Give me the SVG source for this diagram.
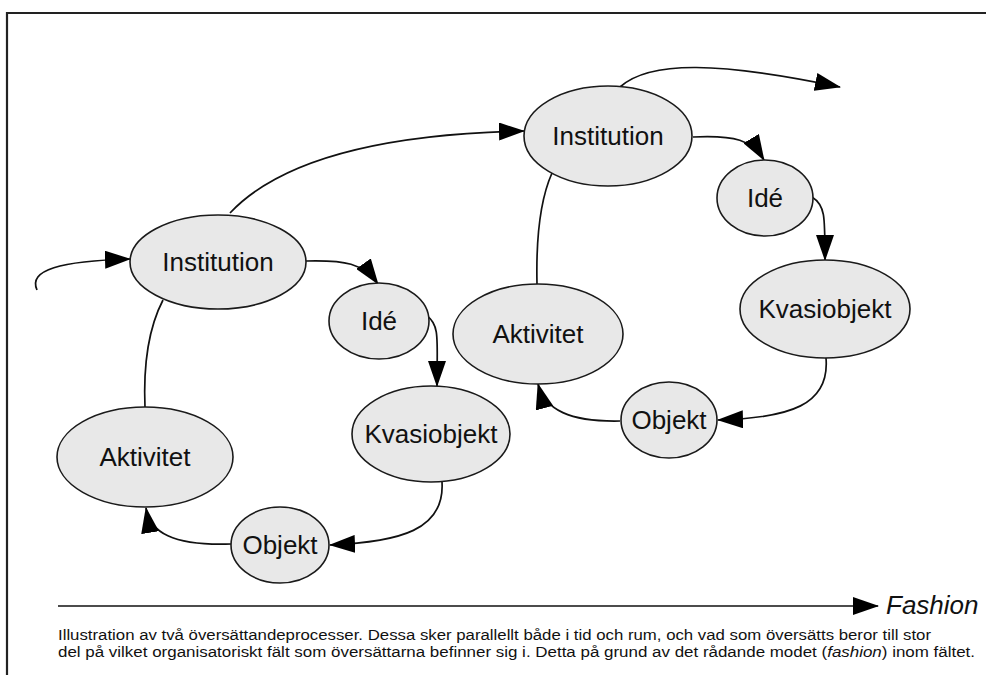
<svg xmlns="http://www.w3.org/2000/svg" width="986" height="675" viewBox="0 0 986 675">
<defs>
<style>
.n ellipse{fill:#e8e8e8;stroke:#1a1a1a;stroke-width:1.6}
.n text{font-family:"Liberation Sans",Arial,sans-serif;font-size:26px;fill:#111;text-anchor:middle}
.c path{fill:none;stroke:#111;stroke-width:1.7}
.a{marker-end:url(#ah)}
.cap{font-family:"Liberation Sans",Arial,sans-serif;font-size:14px;fill:#111}
</style>
<marker id="ah" markerUnits="userSpaceOnUse" markerWidth="26" markerHeight="18" viewBox="0 0 26 18" refX="25" refY="9" orient="auto">
<path d="M0,0 L26,9 L0,18 z" fill="#000"/>
</marker>
</defs>
<rect width="986" height="675" fill="#fff"/>
<path d="M7 675 L7 13 L986 13" fill="none" stroke="#222" stroke-width="2.2"/>

<g class="c">
<path class="a" d="M37 290 C28 270 60 261 130 259"/>
<path class="a" d="M306 261 C345 260 363 263 378 284"/>
<path class="a" d="M427 316 C440 325 437 340 437 386"/>
<path class="a" d="M442 482 C445 530 400 542 330 545"/>
<path class="a" d="M231 544 C172 546 150 532 146 508"/>
<path d="M145 408 C143 360 150 325 163 300"/>
<path class="a" d="M230 213 C280 160 380 134 524 131"/>
<path class="a" d="M620 87 C650 60 720 62 840 87"/>
<path class="a" d="M693 137 C735 135 752 140 764 160"/>
<path class="a" d="M812 197 C825 205 825 215 825 260"/>
<path class="a" d="M826 358 C830 405 790 418 718 420"/>
<path class="a" d="M620 421 C570 422 545 410 538 384"/>
<path d="M537 284 C536 240 540 200 552 173"/>
<path class="a" d="M58 606 L878 606"/>
</g>

<g id="institution1" class="n"><ellipse cx="218" cy="262" rx="88" ry="47"/><text x="218" y="271">Institution</text></g>
<g id="ide1" class="n"><ellipse cx="379" cy="321" rx="50" ry="38"/><text x="379" y="330">Idé</text></g>
<g id="kvasiobjekt1" class="n"><ellipse cx="431" cy="434" rx="79" ry="48"/><text x="431" y="443">Kvasiobjekt</text></g>
<g id="aktivitet1" class="n"><ellipse cx="145" cy="457" rx="88" ry="50"/><text x="145" y="466">Aktivitet</text></g>
<g id="objekt1" class="n"><ellipse cx="280" cy="545" rx="49" ry="38"/><text x="280" y="554">Objekt</text></g>

<g id="institution2" class="n"><ellipse cx="608" cy="136" rx="84" ry="50"/><text x="608" y="145">Institution</text></g>
<g id="ide2" class="n"><ellipse cx="765" cy="198" rx="48" ry="38"/><text x="765" y="207">Idé</text></g>
<g id="kvasiobjekt2" class="n"><ellipse cx="825" cy="309" rx="85" ry="49"/><text x="825" y="318">Kvasiobjekt</text></g>
<g id="aktivitet2" class="n"><ellipse cx="538" cy="334" rx="85" ry="50"/><text x="538" y="343">Aktivitet</text></g>
<g id="objekt2" class="n"><ellipse cx="669" cy="420" rx="48" ry="38"/><text x="669" y="429">Objekt</text></g>

<text x="886" y="614" font-family="Liberation Sans,Arial,sans-serif" font-size="26" font-style="italic" fill="#111">Fashion</text>
<text class="cap" x="58" y="640" textLength="873" lengthAdjust="spacingAndGlyphs">Illustration av två översättandeprocesser. Dessa sker parallellt både i tid och rum, och vad som översätts beror till stor</text>
<text class="cap" x="58" y="657" textLength="917" lengthAdjust="spacingAndGlyphs">del på vilket organisatoriskt fält som översättarna befinner sig i. Detta på grund av det rådande modet (<tspan font-style="italic">fashion</tspan>) inom fältet.</text>
</svg>
